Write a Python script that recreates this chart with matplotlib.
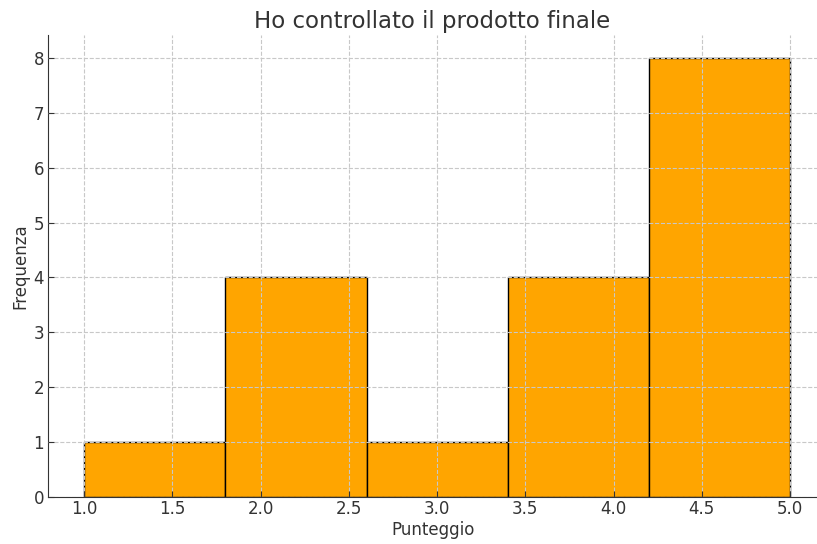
import matplotlib
matplotlib.use("Agg")
import matplotlib.pyplot as plt
import numpy as np

bin_edges = [1.0, 1.8, 2.6, 3.4, 4.2, 5.0]
counts = [1, 4, 1, 4, 8]
xticks = [1.0, 1.5, 2.0, 2.5, 3.0, 3.5, 4.0, 4.5, 5.0]
yticks = [0, 1, 2, 3, 4, 5, 6, 7, 8]
title = "Ho controllato il prodotto finale"
xlabel = "Punteggio"
ylabel = "Frequenza"

plt.rcParams['font.family'] = ['DejaVu Sans']
fig = plt.figure(figsize=(8.17, 5.44), dpi=100)
ax = fig.add_axes([0.059, 0.0864, 0.941, 0.8496])

ax.hist(bin_edges[:-1], bins=bin_edges, weights=counts, color='#FFA500',
        edgecolor='black', linewidth=1.0, zorder=2)
ax.grid(True, linestyle='--', color='#c8c8c8', linewidth=0.8, zorder=3)
ax.set_axisbelow(False)

ax.set_xlim(0.796, 5.153)
ax.set_ylim(0, 8.42)
ax.set_xticks(xticks)
ax.set_xticklabels([f"{t:.1f}" for t in xticks])
ax.set_yticks(yticks)
ax.tick_params(direction='in', labelsize=12, colors='#333333', length=4)
ax.tick_params(axis='x', pad=2)
ax.tick_params(axis='y', pad=3)
for s in ['top', 'right']:
    ax.spines[s].set_visible(False)
for s in ['left', 'bottom']:
    ax.spines[s].set_color('#333333')

ax.set_title(title, fontsize=16.5, color='#333333', pad=5)
ax.set_xlabel(xlabel, fontsize=12, color='#333333', labelpad=2)
ax.set_ylabel(ylabel, fontsize=12, color='#333333', labelpad=3)

fig.savefig("out.png", dpi=100)
